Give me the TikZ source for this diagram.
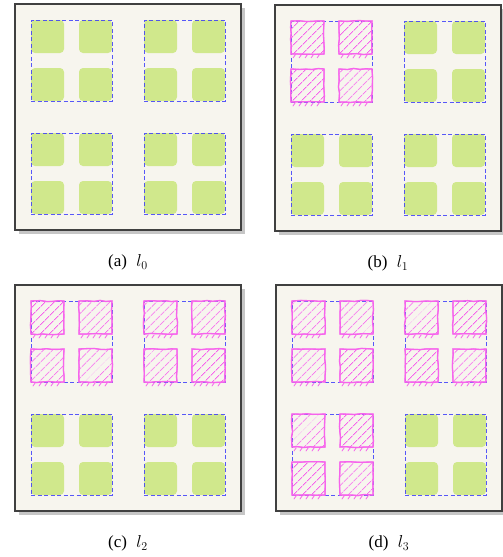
\documentclass[tikz,border=0pt]{standalone}
\usepackage{fontspec}
\setmainfont{Liberation Serif}
\usepackage{tikz}
\usetikzlibrary{positioning, patterns.meta, decorations.pathmorphing}
\definecolor{PanelFill}{RGB}{247, 245, 238}
\definecolor{FrameGray}{RGB}{64, 64, 64}
\definecolor{ShadowGray}{RGB}{198, 198, 198}
\definecolor{CellGreen}{RGB}{208, 232, 140}
\definecolor{GroupBlue}{RGB}{60, 60, 250}
\definecolor{HatchPink}{RGB}{246, 100, 236}

\begin{document}
\begin{tikzpicture}[
    x=1pt, y=-1pt,
    panel/.style={rectangle, draw=FrameGray, line width=1.3pt, fill=PanelFill, minimum size=226pt, inner sep=0pt},
    shadowbox/.style={rectangle, fill=ShadowGray, minimum size=226pt, inner sep=0pt},
    groupbox/.style={rectangle, draw=GroupBlue, draw opacity=0.85, dash pattern=on 4pt off 2.5pt, line width=1pt, minimum size=81pt, inner sep=0pt},
    cell/.style={rectangle, rounded corners=4pt, fill=CellGreen, minimum size=33pt, inner sep=0pt},
    hatchcell/.style={rectangle, minimum size=33pt, inner sep=0pt, draw=HatchPink, line width=1.3pt,
      pattern={Lines[angle=45, distance=6.5pt, line width=0.9pt]}, pattern color=HatchPink,
      decorate, decoration={random steps, segment length=6pt, amplitude=0.6pt},
      preaction={draw=HatchPink, line width=1pt, decorate, decoration={random steps, segment length=7pt, amplitude=0.9pt}}},
    hatchtick/.style={HatchPink, line width=0.8pt},
    caption/.style={font=\fontsize{17}{20}\selectfont, inner sep=0pt, anchor=north}
  ]
    \pgfmathsetseed{11}
    \useasboundingbox (0,0) rectangle (503,557);

    % Panels: name / origin / label / number of done groups
    \foreach \p/\px/\py/\lab/\done in {a/15/4/l_0/0, b/275/5/l_1/1, c/15/285/l_2/2, d/276/285/l_3/3} {
      \node[shadowbox] at (\px+117, \py+117) {};
      \node[panel] (\p) at (\px+113, \py+113) {};
      \node[caption, below=24pt of \p] (\p-cap) {(\p)\hspace{0.55em}$\lab$};

      % Groups of four cells (green cells under the dashed box, hatched ones over it)
      \foreach \gx/\gy [count=\k from 0] in {0/0, 1/0, 0/1, 1/1} {
        \ifnum\k<\done
          \node[groupbox] (\p-\k) at (\px+56.5+113*\gx, \py+56.5+113*\gy) {};
          \foreach \cx/\cy [count=\c] in {0/0, 1/0, 0/1, 1/1} {
            \node[hatchcell] (\p-\k-\c) at (\px+32.5+113*\gx+48*\cx, \py+32.5+113*\gy+48*\cy) {};
            \foreach \t in {5,11,...,32} {
              \draw[hatchtick] ([xshift=\t pt]\p-\k-\c.south west) -- ++(-2.5, 3.5);
            }
          }
        \else
          \foreach \cx/\cy [count=\c] in {0/0, 1/0, 0/1, 1/1} {
            \node[cell] (\p-\k-\c) at (\px+32.5+113*\gx+48*\cx, \py+32.5+113*\gy+48*\cy) {};
          }
          \node[groupbox] (\p-\k) at (\px+56.5+113*\gx, \py+56.5+113*\gy) {};
        \fi
      }
    }
  \end{tikzpicture}
\end{document}
